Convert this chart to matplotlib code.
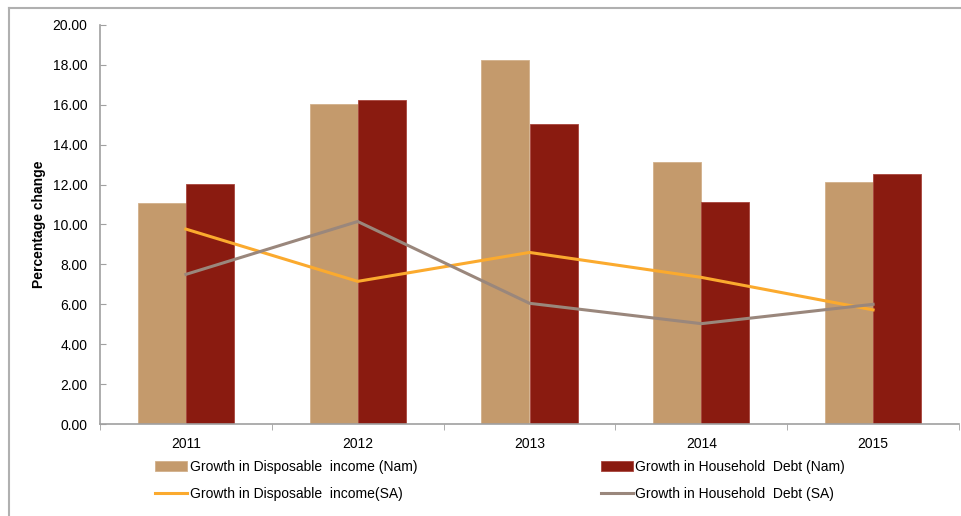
import numpy as np
from matplotlib import pyplot as plt
from matplotlib.lines import Line2D

plt.rcParams['font.family'] = ['Liberation Sans', 'DejaVu Sans']
plt.rcParams['font.size'] = 10

years = ['2011', '2012', '2013', '2014', '2015']
disp_nam = [11.1, 16.05, 18.25, 13.15, 12.15]
debt_nam = [12.02, 16.22, 15.04, 11.13, 12.55]
disp_sa = [9.77, 7.15, 8.6, 7.35, 5.72]
debt_sa = [7.5, 10.15, 6.05, 5.03, 6.0]

W, H = 962, 516
fig = plt.figure(figsize=(W/100, H/100), dpi=100)
ax = fig.add_axes([100/W, 1-424/H, 859/W, 399/H])

x = np.arange(len(years))
bw = 0.28
b1 = ax.bar(x - bw/2, disp_nam, bw, color='#C49A6C', edgecolor='#D2B08A', linewidth=0.6, zorder=2)
b2 = ax.bar(x + bw/2, debt_nam, bw, color='#8A1B10', edgecolor='#A8453C', linewidth=0.6, zorder=2)
l1, = ax.plot(x, disp_sa, color='#FBAA2E', lw=2.2, zorder=3)
l2, = ax.plot(x, debt_sa, color='#9A877C', lw=2.2, zorder=3)

ax.set_xlim(-0.5, len(years) - 0.5)
ax.set_ylim(0, 20)
ax.set_yticks(np.arange(0, 20.1, 2))
ax.set_yticklabels(['%.2f' % v for v in np.arange(0, 20.1, 2)])
ax.set_xticks(x)
ax.set_xticklabels(years)
ax.set_xticks(np.arange(-0.5, len(years)), minor=True)
ax.tick_params(axis='x', which='major', length=0, pad=9)
ax.tick_params(axis='x', which='minor', length=4, color='#A0A0A0', direction='out')
ax.tick_params(axis='y', length=4, color='#A0A0A0', direction='in', pad=9)

for s in ['top', 'right']:
    ax.spines[s].set_visible(False)
for s in ['left', 'bottom']:
    ax.spines[s].set_color('#A0A0A0')
    ax.spines[s].set_linewidth(1.2)

ax.set_ylabel('Percentage change', fontweight='bold', labelpad=5)

handles = [b1, l1, b2, l2]
labels = ['Growth in Disposable  income (Nam)', 'Growth in Disposable  income(SA)',
          'Growth in Household  Debt (Nam)', 'Growth in Household  Debt (SA)']
fig.legend(handles, labels, ncol=2, frameon=False,
           loc='upper left', bbox_to_anchor=(155/W, 1-460/H),
           handlelength=2.3, handletextpad=0.2, columnspacing=13.2,
           labelspacing=0.95, borderaxespad=0, borderpad=0)

fig.add_artist(Line2D([9/W, 1], [1-7.5/H, 1-7.5/H], color='#B0B0B0', lw=1.5))
fig.add_artist(Line2D([9/W, 9/W], [1-7.5/H, 0], color='#B0B0B0', lw=1.5))

fig.savefig('out.png', dpi=100)
